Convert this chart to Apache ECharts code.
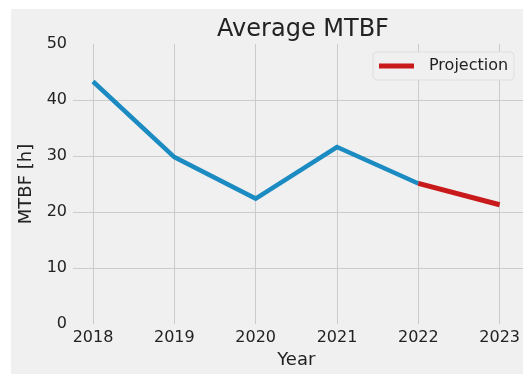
<!DOCTYPE html>
<html>
<head>
<meta charset="utf-8">
<script src="https://cdn.jsdelivr.net/npm/echarts@6/dist/echarts.min.js"></script>
<style>
  html, body { margin: 0; padding: 0; background: #ffffff; overflow: hidden; }
  #wrap { position: relative; width: 523px; height: 374px; overflow: hidden; }
  #bg { position: absolute; left: 11px; top: 9px; width: 512px; height: 365px; background: #f0f0f0; }
  #chart { position: absolute; left: 0; top: 0; width: 523px; height: 374px; }
</style>
</head>
<body>
<div id="wrap"><div id="bg"></div><div id="chart"></div></div>
<script>
// ---- data ----
const years = [2018, 2019, 2020, 2021, 2022];
const mtbf = [43.3, 29.8, 22.4, 31.6, 25.1];
const projYears = [2022, 2023];
const projection = [25.1, 21.3];
const yTicks = [0, 10, 20, 30, 40, 50];
const title = 'Average MTBF';
const xName = 'Year';
const yName = 'MTBF [h]';
const projName = 'Projection';

const font = 'DejaVu Sans';
const textColor = '#222222';
const gridColor = '#cbcbcb';

const chart = echarts.init(document.getElementById('chart'), null, { renderer: 'canvas' });
chart.setOption({
  backgroundColor: 'transparent',
  animation: false,
  textStyle: { fontFamily: font },
  title: {
    text: title,
    left: 298, top: 13,
    textAlign: 'center',
    textStyle: { fontFamily: font, fontSize: 24, fontWeight: 'normal', color: textColor }
  },
  legend: {
    data: [projName],
    left: 373, top: 52,
    icon: 'rect',
    itemWidth: 35, itemHeight: 5, itemGap: 10,
    padding: [6, 6, 6, 6],
    backgroundColor: '#f0f0f0',
    borderColor: '#dedede', borderWidth: 1, borderRadius: 4,
    textStyle: { fontFamily: font, fontSize: 16, color: textColor, padding: [0, 0, 0, 10] }
  },
  grid: [
    { left: 73, right: -3, top: 44, bottom: 50 },
    { left: 93, right: 18, top: 44, bottom: 50 }
  ],
  xAxis: [
    { gridIndex: 0, type: 'value', min: 0, max: 1, show: false },
    {
      gridIndex: 1, type: 'value', min: years[0], max: projYears[projYears.length - 1], interval: 1,
      name: xName, nameLocation: 'middle', nameGap: 24,
      nameTextStyle: { fontFamily: font, fontSize: 18, color: textColor },
      axisLine: { show: false }, axisTick: { show: false },
      axisLabel: { fontFamily: font, fontSize: 16, color: textColor, margin: 6, formatter: v => String(v) },
      splitLine: { show: true, lineStyle: { color: gridColor, width: 1 } }
    }
  ],
  yAxis: [
    {
      gridIndex: 0, type: 'value', min: yTicks[0], max: yTicks[yTicks.length - 1], interval: 10,
      name: yName, nameLocation: 'middle', nameGap: 34, nameRotate: 90,
      nameTextStyle: { fontFamily: font, fontSize: 18, color: textColor },
      axisLine: { show: false }, axisTick: { show: false },
      axisLabel: { fontFamily: font, fontSize: 16, color: textColor, margin: 6 },
      splitLine: { show: true, showMinLine: false, showMaxLine: false, lineStyle: { color: gridColor, width: 1 } }
    },
    {
      gridIndex: 1, type: 'value', min: yTicks[0], max: yTicks[yTicks.length - 1], show: false,
      splitLine: { show: false }
    }
  ],
  series: [
    {
      name: 'MTBF', type: 'line', xAxisIndex: 1, yAxisIndex: 1,
      data: years.map((y, i) => [y, mtbf[i]]),
      showSymbol: false, symbol: 'none',
      lineStyle: { color: '#1b8bc2', width: 4.5, cap: 'butt', join: 'miter' },
      itemStyle: { color: '#1b8bc2' }, z: 3
    },
    {
      name: projName, type: 'line', xAxisIndex: 1, yAxisIndex: 1,
      data: projYears.map((y, i) => [y, projection[i]]),
      showSymbol: false, symbol: 'none',
      lineStyle: { color: '#c8191b', width: 5, cap: 'butt' },
      itemStyle: { color: '#c8191b' }, z: 4
    }
  ]
});
</script>
</body>
</html>
